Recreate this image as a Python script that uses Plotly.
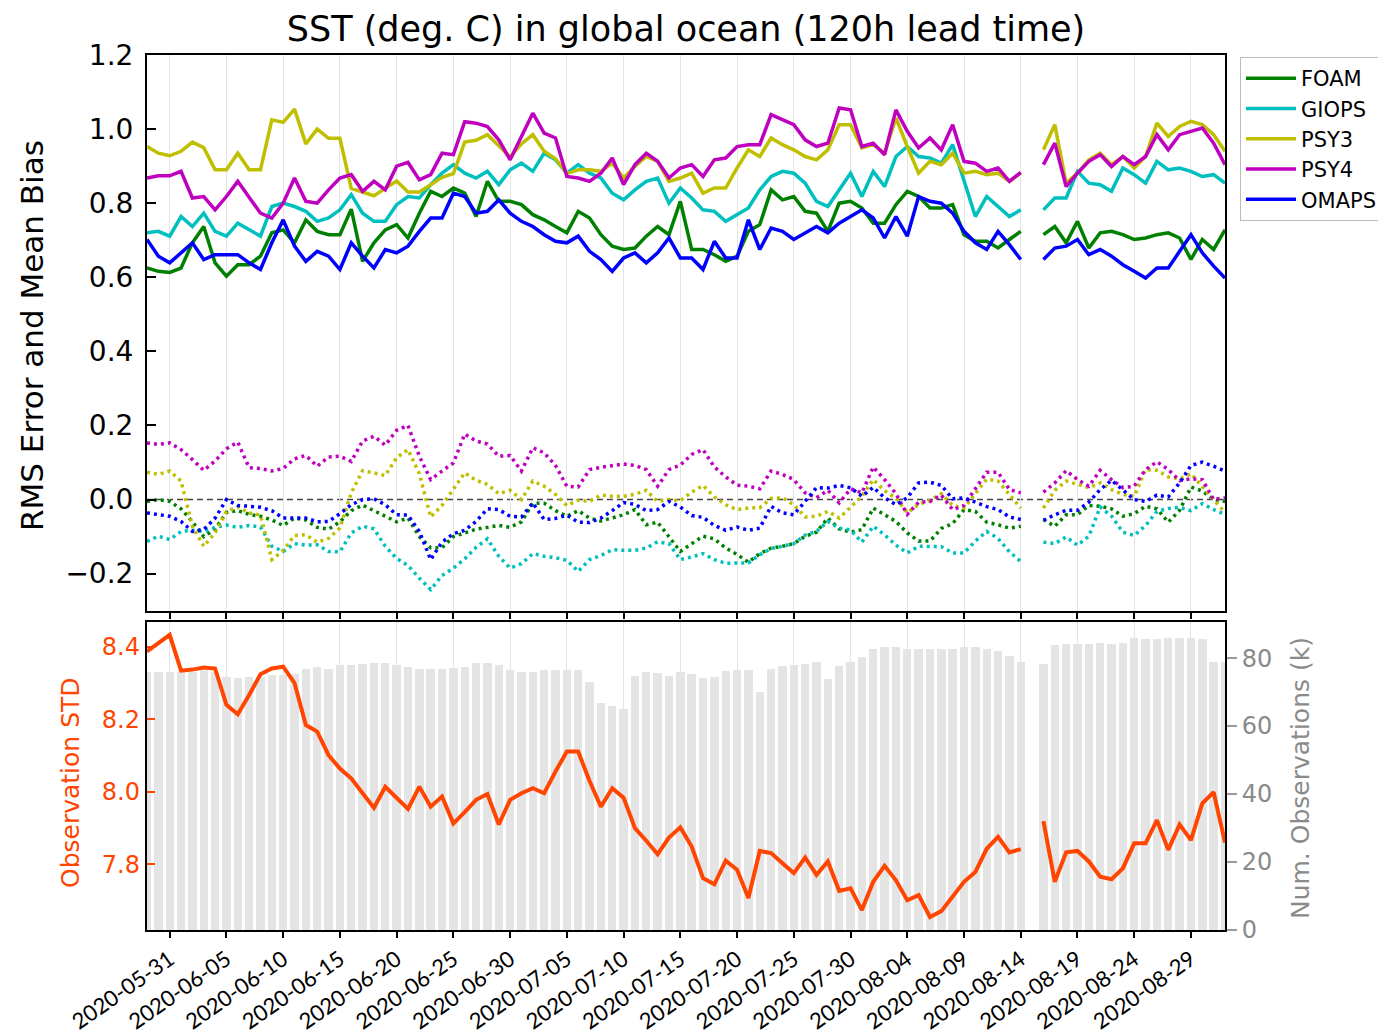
import pandas as pd
import plotly.graph_objects as go

# ---------------- data ----------------
dates = pd.date_range("2020-05-29", "2020-09-01", freq="D")

foam_rms = [0.625, 0.616, 0.613, 0.625, 0.693, 0.737, 0.639, 0.603, 0.634, 0.634,
            0.657, 0.72, 0.728, 0.693, 0.755, 0.724, 0.715, 0.715, 0.784, 0.643,
            0.693, 0.728, 0.742, 0.706, 0.773, 0.832, 0.818, 0.841, 0.827, 0.764,
            0.859, 0.805, 0.805, 0.796, 0.769, 0.755, 0.737, 0.72, 0.778, 0.76,
            0.715, 0.684, 0.675, 0.679, 0.711, 0.737, 0.715, 0.805, 0.675, 0.675,
            0.661, 0.643, 0.657, 0.724, 0.742, 0.836, 0.809, 0.818, 0.778, 0.773,
            0.724, 0.80, 0.805, 0.787, 0.746, 0.746, 0.796, 0.832, 0.818, 0.787,
            0.787, 0.796, 0.715, 0.697, 0.697, 0.679, 0.702, 0.724, None, 0.715,
            0.737, 0.693, 0.751, 0.679, 0.72, 0.724, 0.715, 0.702, 0.706, 0.715,
            0.72, 0.706, 0.648, 0.702, 0.675, 0.728]
giops_rms = [0.72, 0.724, 0.711, 0.764, 0.737, 0.773, 0.724, 0.711, 0.746, 0.728,
             0.711, 0.791, 0.80, 0.791, 0.778, 0.751, 0.76, 0.782, 0.823, 0.773,
             0.751, 0.751, 0.796, 0.818, 0.814, 0.85, 0.881, 0.904, 0.881, 0.868,
             0.886, 0.85, 0.89, 0.908, 0.886, 0.935, 0.917, 0.881, 0.904, 0.881,
             0.868, 0.827, 0.809, 0.836, 0.859, 0.868, 0.80, 0.841, 0.814, 0.782,
             0.778, 0.751, 0.769, 0.787, 0.836, 0.872, 0.886, 0.881, 0.854, 0.805,
             0.791, 0.836, 0.881, 0.818, 0.886, 0.845, 0.926, 0.953, 0.926, 0.922,
             0.908, 0.958, 0.863, 0.764, 0.818, 0.791, 0.764, 0.782, None, 0.782,
             0.814, 0.814, 0.886, 0.854, 0.85, 0.832, 0.895, 0.877, 0.854, 0.913,
             0.89, 0.895, 0.886, 0.872, 0.877, 0.854]
psy3_rms = [0.953, 0.935, 0.928, 0.94, 0.965, 0.95, 0.89, 0.89, 0.935, 0.89,
            0.89, 1.025, 1.018, 1.054, 0.96, 1.0, 0.975, 0.975, 0.84, 0.83,
            0.82, 0.84, 0.86, 0.83, 0.83, 0.85, 0.87, 0.88, 0.965, 0.97,
            0.985, 0.955, 0.925, 0.96, 0.985, 0.94, 0.92, 0.88, 0.89, 0.89,
            0.886, 0.908, 0.868, 0.899, 0.926, 0.913, 0.859, 0.868, 0.881, 0.827,
            0.841, 0.841, 0.895, 0.944, 0.926, 0.976, 0.958, 0.944, 0.926, 0.917,
            0.944, 1.012, 1.012, 0.949, 0.958, 0.935, 1.03, 0.953, 0.881, 0.913,
            0.904, 0.935, 0.881, 0.886, 0.877, 0.881, 0.859, 0.881, None, 0.944,
            1.012, 0.854, 0.881, 0.917, 0.935, 0.904, 0.926, 0.895, 0.926, 1.016,
            0.98, 1.007, 1.021, 1.012, 0.985, 0.94]
psy4_rms = [0.868, 0.874, 0.874, 0.886, 0.814, 0.818, 0.782, 0.818, 0.859, 0.814,
            0.773, 0.76, 0.80, 0.868, 0.805, 0.80, 0.836, 0.868, 0.877, 0.832,
            0.859, 0.836, 0.90, 0.91, 0.863, 0.877, 0.935, 0.931, 1.02, 1.016,
            1.007, 0.971, 0.917, 0.98, 1.043, 0.989, 0.976, 0.872, 0.868, 0.859,
            0.881, 0.922, 0.85, 0.904, 0.935, 0.913, 0.868, 0.895, 0.904, 0.872,
            0.917, 0.922, 0.953, 0.958, 0.958, 1.039, 1.025, 1.012, 0.971, 0.953,
            0.962, 1.057, 1.052, 0.953, 0.962, 0.931, 1.052, 0.994, 0.949, 0.976,
            0.944, 1.012, 0.913, 0.908, 0.886, 0.895, 0.859, 0.883, None, 0.904,
            0.962, 0.845, 0.881, 0.913, 0.931, 0.899, 0.926, 0.904, 0.926, 0.985,
            0.944, 0.985, 0.994, 1.003, 0.962, 0.904]
omaps_rms = [0.702, 0.657, 0.639, 0.666, 0.693, 0.648, 0.661, 0.661, 0.661, 0.639,
             0.621, 0.693, 0.755, 0.684, 0.643, 0.670, 0.657, 0.621, 0.693, 0.657,
             0.625, 0.675, 0.666, 0.684, 0.724, 0.76, 0.76, 0.827, 0.818, 0.773,
             0.778, 0.809, 0.773, 0.751, 0.737, 0.715, 0.697, 0.693, 0.711, 0.67,
             0.648, 0.616, 0.652, 0.666, 0.639, 0.666, 0.706, 0.652, 0.652, 0.621,
             0.697, 0.652, 0.652, 0.755, 0.675, 0.733, 0.724, 0.702, 0.72, 0.737,
             0.72, 0.746, 0.764, 0.782, 0.76, 0.706, 0.764, 0.711, 0.818, 0.805,
             0.80, 0.773, 0.724, 0.693, 0.675, 0.724, 0.688, 0.648, None, 0.648,
             0.679, 0.684, 0.702, 0.661, 0.675, 0.657, 0.634, 0.616, 0.598, 0.625,
             0.625, 0.670, 0.715, 0.666, 0.630, 0.598]

foam_bias = [-0.005, 0.0, -0.005, -0.025, -0.06, -0.1, -0.08, -0.035, -0.03, -0.04,
             -0.045, -0.055, -0.07, -0.05, -0.055, -0.075, -0.08, -0.06, -0.03, -0.015,
             -0.03, -0.045, -0.06, -0.05, -0.1, -0.13, -0.13, -0.1, -0.09, -0.08,
             -0.075, -0.07, -0.075, -0.06, -0.01, -0.01, -0.03, -0.045, -0.03, -0.05,
             -0.058, -0.049, -0.041, -0.027, -0.068, -0.061, -0.101, -0.14, -0.119, -0.099,
             -0.106, -0.131, -0.148, -0.169, -0.146, -0.131, -0.126, -0.119, -0.099, -0.088,
             -0.05, -0.079, -0.088, -0.081, -0.023, -0.041, -0.059, -0.09, -0.112, -0.112,
             -0.078, -0.065, -0.027, -0.032, -0.061, -0.068, -0.077, -0.072, None, -0.054,
             -0.072, -0.041, -0.041, -0.016, -0.018, -0.025, -0.045, -0.038, -0.018, -0.025,
             -0.061, -0.029, 0.034, 0.023, 0.0, -0.005]
giops_bias = [-0.113, -0.099, -0.108, -0.086, -0.083, -0.086, -0.075, -0.069, -0.075, -0.07,
              -0.074, -0.126, -0.14, -0.119, -0.123, -0.122, -0.14, -0.141, -0.09, -0.072,
              -0.079, -0.126, -0.159, -0.178, -0.212, -0.243, -0.205, -0.185, -0.16, -0.129,
              -0.106, -0.153, -0.185, -0.173, -0.146, -0.153, -0.157, -0.164, -0.194, -0.162,
              -0.151, -0.135, -0.137, -0.137, -0.131, -0.114, -0.119, -0.162, -0.155, -0.146,
              -0.162, -0.172, -0.171, -0.171, -0.149, -0.132, -0.126, -0.119, -0.096, -0.086,
              -0.059, -0.077, -0.082, -0.115, -0.072, -0.095, -0.123, -0.144, -0.126, -0.126,
              -0.127, -0.144, -0.144, -0.112, -0.086, -0.105, -0.141, -0.167, None, -0.115,
              -0.119, -0.101, -0.123, -0.099, -0.02, -0.045, -0.088, -0.097, -0.07, -0.032,
              -0.024, -0.021, -0.03, -0.011, -0.027, -0.04]
psy3_bias = [0.074, 0.068, 0.077, 0.05, -0.072, -0.126, -0.09, -0.032, -0.02, -0.036,
             -0.042, -0.162, -0.137, -0.097, -0.095, -0.115, -0.105, -0.077, 0.018, 0.078,
             0.072, 0.065, 0.113, 0.135, 0.07, -0.047, -0.016, 0.027, 0.072, 0.052,
             0.041, 0.016, 0.025, 0.0, 0.05, 0.036, 0.014, -0.016, -0.002, -0.005,
             0.012, 0.009, 0.009, 0.014, 0.025, -0.005, 0.0, -0.003, 0.02, 0.038,
             0.007, -0.014, -0.027, -0.023, -0.022, 0.003, 0.005, -0.014, -0.047, -0.045,
             -0.032, -0.05, -0.022, 0.009, 0.054, 0.024, 0.004, -0.036, -0.013, -0.002,
             0.016, -0.016, -0.023, 0.015, 0.055, 0.05, 0.014, -0.023, None, -0.023,
             0.025, 0.05, 0.041, 0.032, 0.045, 0.027, 0.014, 0.009, 0.081, 0.079,
             0.061, 0.056, 0.07, 0.036, 0.0, -0.035]
psy4_bias = [0.153, 0.149, 0.153, 0.135, 0.108, 0.079, 0.104, 0.137, 0.155, 0.086,
             0.084, 0.077, 0.084, 0.11, 0.119, 0.09, 0.115, 0.117, 0.103, 0.158,
             0.171, 0.147, 0.187, 0.2, 0.117, 0.054, 0.077, 0.099, 0.177, 0.158,
             0.15, 0.117, 0.119, 0.077, 0.14, 0.126, 0.092, 0.036, 0.034, 0.081,
             0.087, 0.092, 0.096, 0.092, 0.081, 0.036, 0.081, 0.093, 0.122, 0.135,
             0.088, 0.061, 0.039, 0.036, 0.029, 0.077, 0.068, 0.054, 0.018, 0.005,
             0.025, -0.009, 0.029, 0.018, 0.088, 0.054, 0.016, -0.04, -0.007, -0.005,
             0.012, -0.027, -0.016, 0.029, 0.074, 0.074, 0.027, 0.018, None, 0.02,
             0.045, 0.078, 0.054, 0.036, 0.079, 0.054, 0.032, 0.036, 0.081, 0.102,
             0.081, 0.051, 0.056, 0.054, 0.0, 0.005]
omaps_bias = [-0.036, -0.041, -0.045, -0.059, -0.086, -0.081, -0.05, 0.0, -0.016, -0.018,
              -0.021, -0.03, -0.05, -0.05, -0.05, -0.06, -0.059, -0.038, -0.014, 0.0,
              0.002, -0.014, -0.041, -0.042, -0.086, -0.162, -0.115, -0.092, -0.083, -0.059,
              -0.025, -0.027, -0.045, -0.047, -0.009, -0.054, -0.051, -0.042, -0.061, -0.062,
              -0.05, -0.03, -0.008, -0.013, -0.03, -0.027, -0.005, -0.02, -0.043, -0.048,
              -0.07, -0.083, -0.074, -0.083, -0.077, -0.018, -0.036, -0.041, -0.005, 0.032,
              0.031, 0.038, 0.032, 0.009, 0.033, 0.005, -0.014, 0.005, 0.045, 0.047,
              0.038, 0.002, 0.005, -0.006, -0.019, -0.027, -0.047, -0.054, None, -0.056,
              -0.041, -0.029, -0.029, -0.007, 0.027, 0.052, 0.027, 0.0, -0.005, 0.012,
              0.007, 0.045, 0.092, 0.101, 0.09, 0.077]

obs_std = [8.387, 8.41, 8.433, 8.334, 8.337, 8.343, 8.34, 8.24, 8.214, 8.267,
           8.324, 8.34, 8.345, 8.3, 8.184, 8.166, 8.101, 8.064, 8.037, 7.996,
           7.956, 8.014, 7.984, 7.953, 8.014, 7.959, 7.987, 7.913, 7.944, 7.978,
           7.994, 7.91, 7.978, 7.996, 8.01, 7.996, 8.056, 8.111, 8.111, 8.03,
           7.959, 8.01, 7.984, 7.9, 7.865, 7.828, 7.874, 7.902, 7.849, 7.762,
           7.745, 7.81, 7.785, 7.707, 7.837, 7.831, 7.803, 7.776, 7.819, 7.771,
           7.808, 7.727, 7.734, 7.674, 7.752, 7.796, 7.756, 7.701, 7.715, 7.655,
           7.671, 7.71, 7.752, 7.779, 7.843, 7.876, 7.833, 7.842, None, 7.919,
           7.752, 7.833, 7.837, 7.808, 7.766, 7.759, 7.789, 7.858, 7.858, 7.922,
           7.84, 7.91, 7.867, 7.968, 7.999, 7.86]
obs_count = [76, 76, 76, 76, 76, 76.5, 76, 74.5, 74.3, 74.5,
             74.5, 75, 75, 75.5, 77, 77.5, 77, 78, 78, 78.3,
             78.5, 78.5, 78, 77.5, 77, 77, 77, 77.3, 77.5, 78.5,
             78.5, 78, 76.5, 76, 76, 76.5, 76.5, 76.5, 76.5, 73,
             66.9, 65.9, 65.1, 74.7, 76.1, 75.7, 74.7, 76.1, 75.4, 74.1,
             74.4, 76.4, 76.7, 76.7, 70, 76.9, 77.8, 78, 78.3, 79,
             73.9, 77.8, 78.8, 80.3, 82.7, 83.2, 83.2, 82.9, 82.7, 82.9,
             82.7, 82.9, 83.2, 83.2, 82.9, 82.2, 80.8, 78.8, None, 78.3,
             83.9, 84.2, 84.2, 84.2, 84.5, 84.2, 84.5, 86.1, 85.7, 85.7,
             86.1, 86.1, 86.1, 85.7, 78.8, 78.8]

models = ["FOAM", "GIOPS", "PSY3", "PSY4", "OMAPS"]
colors = ["#008000", "#00bfbf", "#bfbf00", "#bf00bf", "#0000ff"]
rms = [foam_rms, giops_rms, psy3_rms, psy4_rms, omaps_rms]
bias = [foam_bias, giops_bias, psy3_bias, psy4_bias, omaps_bias]

FONT = "DejaVu Sans"
DAY_MS = 86400000

fig = go.Figure()

for name, col, r in zip(models, colors, rms):
    fig.add_trace(go.Scatter(x=dates, y=r, mode="lines", name=name,
                             line=dict(color=col, width=3.5),
                             xaxis="x", yaxis="y", connectgaps=False))
for name, col, b in zip(models, colors, bias):
    fig.add_trace(go.Scatter(x=dates, y=b, mode="lines", name=name + " bias",
                             line=dict(color=col, width=3.5, dash="3px,4px"),
                             xaxis="x", yaxis="y", showlegend=False,
                             connectgaps=False))

fig.add_trace(go.Bar(x=dates, y=obs_count, xaxis="x2", yaxis="y2",
                     marker=dict(color="#e4e4e4", line=dict(width=0)),
                     width=0.74 * DAY_MS, showlegend=False))
fig.add_trace(go.Scatter(x=dates, y=obs_std, mode="lines", xaxis="x2", yaxis="y3",
                         line=dict(color="#ff4500", width=4), showlegend=False,
                         connectgaps=False))

xcommon = dict(type="date", range=["2020-05-29", "2020-09-01"],
               tick0="2020-05-31", dtick=5 * DAY_MS, tickformat="%Y-%m-%d",
               ticks="outside", ticklen=6, tickwidth=2, tickcolor="black",
               showline=True, mirror=True, linecolor="black", linewidth=2,
               showgrid=True, gridcolor="#e4e4e4", gridwidth=1, zeroline=False,
               automargin=False)

fig.update_layout(
    width=1378, height=1027,
    margin=dict(l=139, r=161, t=47, b=105, autoexpand=False),
    paper_bgcolor="white", plot_bgcolor="white",
    font=dict(family=FONT, color="black"),
    title=dict(text="SST (deg. C) in global ocean (120h lead time)",
               font=dict(size=35, family=FONT, color="black"),
               xref="paper", x=0.5, xanchor="center", y=0.9795, yanchor="middle"),
    xaxis=dict(**xcommon, domain=[0, 1], anchor="y", showticklabels=False),
    yaxis=dict(domain=[0.3649, 1], anchor="x", range=[-0.3, 1.2],
               tick0=0, dtick=0.2, tickformat=".1f",
               ticks="inside", ticklen=9, tickwidth=2, tickcolor="black",
               tickfont=dict(size=28, family=FONT), ticklabelstandoff=6,
               showline=True, mirror=True, linecolor="black", linewidth=2,
               showgrid=False, zeroline=False, automargin=False),
    xaxis2=dict(**xcommon, domain=[0, 1], anchor="y2", matches="x",
                showticklabels=True, tickangle=-35,
                tickfont=dict(size=22, family="Lato", color="black")),
    yaxis2=dict(domain=[0, 0.3523], anchor="x2", side="right",
                range=[0, 90.7], tick0=0, dtick=20,
                ticks="outside", ticklen=10, tickwidth=2, tickcolor="#999999",
                tickfont=dict(size=24, family=FONT, color="#8a8a8a"),
                showline=True, mirror=True, linecolor="black", linewidth=2,
                showgrid=False, zeroline=False, automargin=False),
    yaxis3=dict(overlaying="y2", anchor="x2", side="left",
                range=[7.619, 8.469], tick0=7.8, dtick=0.2, tickformat=".1f",
                ticks="inside", ticklen=8, tickwidth=2, tickcolor="#ff4500",
                tickfont=dict(size=24, family=FONT, color="#ff4500"),
                ticklabelstandoff=6,
                showline=False, showgrid=False, zeroline=False, automargin=False),
    legend=dict(x=1.0139, y=0.9977, xanchor="left", yanchor="top",
                font=dict(size=21, family=FONT, color="black"),
                bgcolor="white", bordercolor="#bbbbbb", borderwidth=1,
                itemwidth=50, tracegroupgap=0),
    shapes=[dict(type="line", xref="x domain", x0=0, x1=1, yref="y", y0=0, y1=0,
                 line=dict(color="#444444", width=1.5, dash="6px,4px"), layer="below")],
    annotations=[
        dict(text="RMS Error and Mean Bias", xref="paper", yref="paper",
             x=-0.1067, y=0.68, xanchor="center", yanchor="middle", textangle=-90,
             showarrow=False, font=dict(size=31, family=FONT, color="black")),
        dict(text="Observation STD", xref="paper", yref="paper",
             x=-0.0714, y=0.168, xanchor="center", yanchor="middle", textangle=-90,
             showarrow=False, font=dict(size=25, family=FONT, color="#ff4500")),
        dict(text="Num. Observations (k)", xref="paper", yref="paper",
             x=1.0696, y=0.1737, xanchor="center", yanchor="middle", textangle=-90,
             showarrow=False, font=dict(size=25, family=FONT, color="#8a8a8a")),
    ],
    bargap=0,
)

fig.write_html("out.html")
